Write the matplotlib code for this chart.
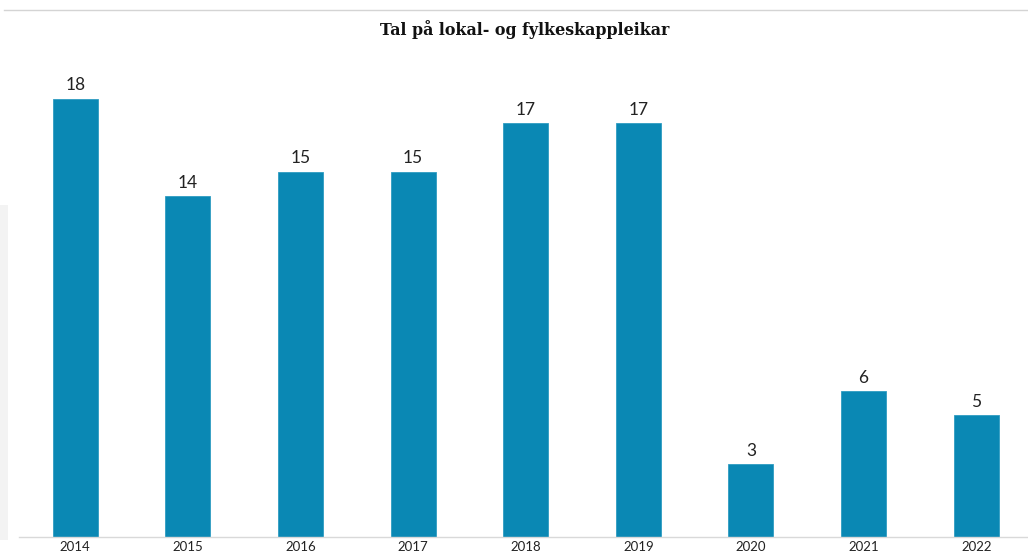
import matplotlib.pyplot as plt
from matplotlib.patches import Rectangle
from matplotlib.lines import Line2D

# data
years = ['2014', '2015', '2016', '2017', '2018', '2019', '2020', '2021', '2022']
counts = [18, 14, 15, 15, 17, 17, 3, 6, 5]

W, H = 1028, 558
fig = plt.figure(figsize=(W / 100, H / 100), dpi=100)
ax = fig.add_axes([19 / W, 21 / H, 1 - 19 / W, 1 - 21 / H - 50 / H])

x = range(len(years))
ax.bar(x, counts, width=0.4, color='#0a88b4', edgecolor='#2e9cc2', linewidth=0.6)
for i, v in zip(x, counts):
    ax.text(i, v + 0.22, str(v), ha='center', va='bottom', fontsize=12.5,
            family='Lato', color='#222222')

ax.set_xlim(-0.5, 8.46)
ax.set_ylim(0, 20)
ax.set_xticks(list(x))
ax.set_xticklabels(years, fontsize=9.5, family='Lato', color='#222222')
ax.tick_params(axis='x', length=0, pad=3)
ax.set_yticks([])
for s in ['top', 'right', 'left']:
    ax.spines[s].set_visible(False)
ax.spines['bottom'].set_color('#d9d9d9')
ax.spines['bottom'].set_linewidth(1)

fig.text(525 / W, 1 - 30 / H, 'Tal på lokal- og fylkeskappleikar', ha='center', va='center',
         fontsize=11.4, fontweight='bold', family='DejaVu Serif', color='#111111')

# frame bits from the screenshot
fig.add_artist(Line2D([4 / W, 1], [1 - 10 / H, 1 - 10 / H], color='#d4d4d4', linewidth=1))
fig.add_artist(Rectangle((0, 18 / H), 8 / W, 335 / H, facecolor='#f3f3f3', edgecolor='none'))

fig.savefig('out.png', dpi=100)
